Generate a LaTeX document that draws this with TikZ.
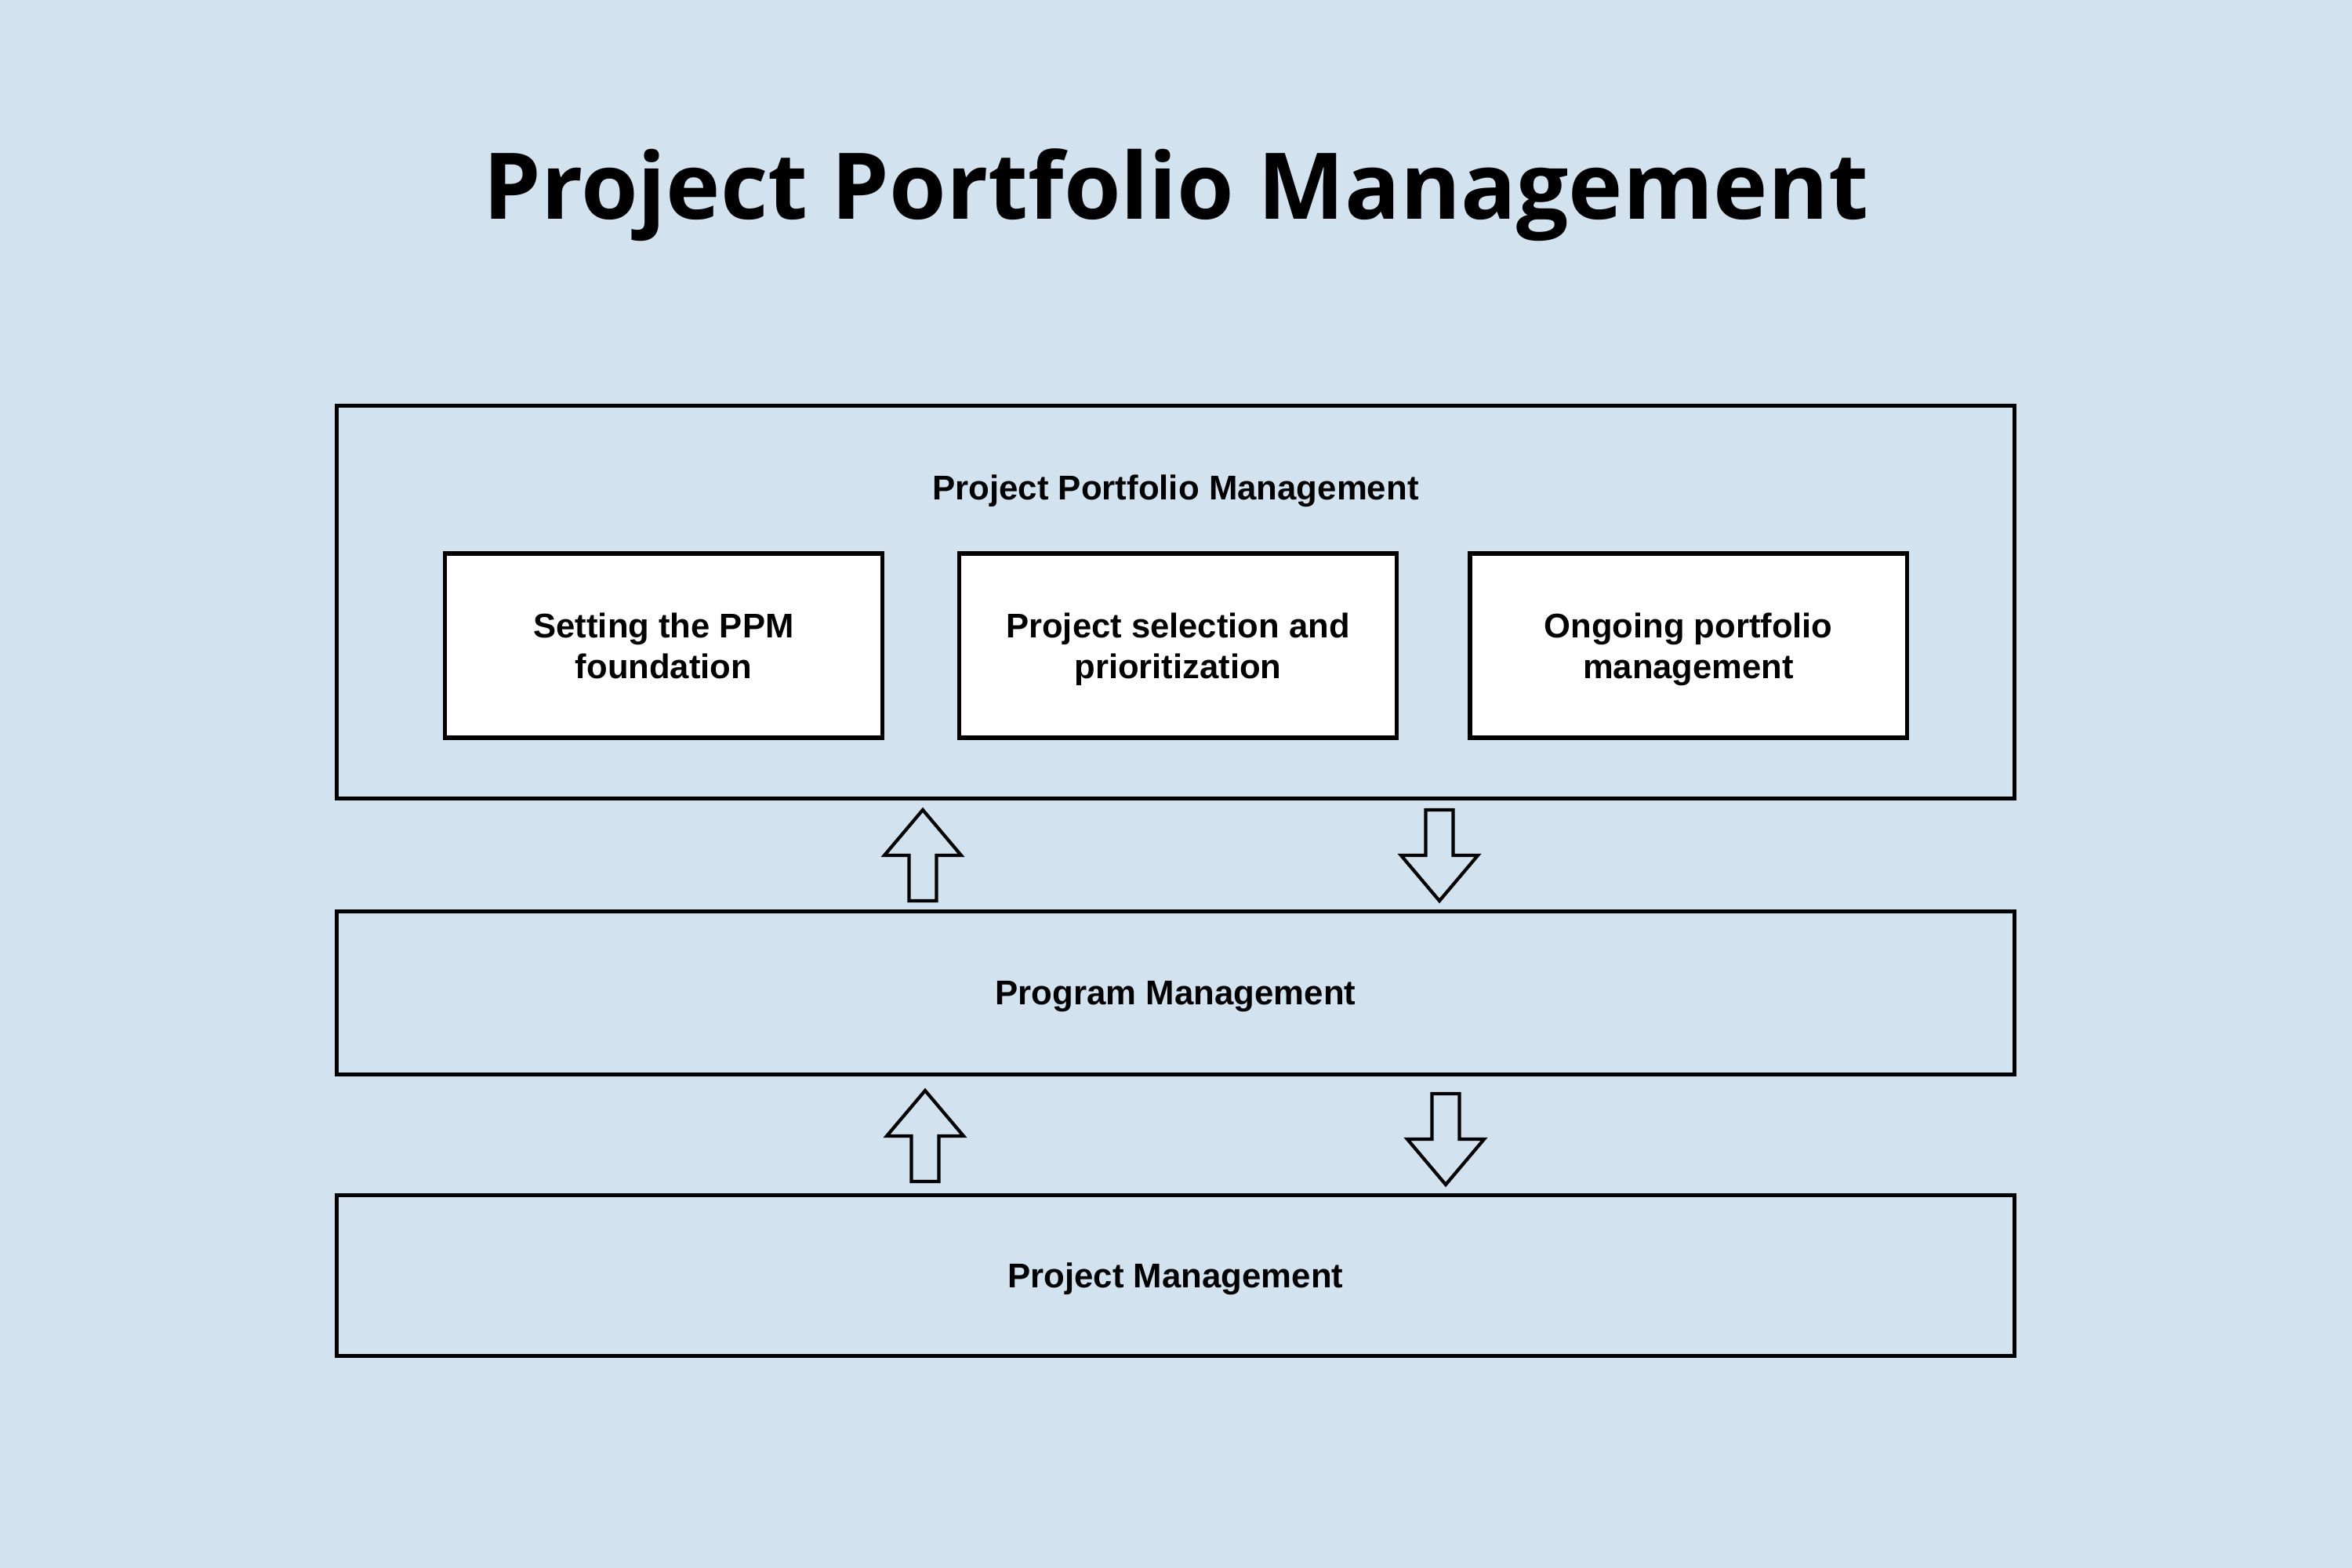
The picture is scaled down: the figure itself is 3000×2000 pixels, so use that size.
\documentclass[tikz,border=0pt]{standalone}
\usepackage{fontspec}
\setmainfont{Liberation Sans}
\newfontfamily\titlefont{Open Sans}
\definecolor{bgblue}{RGB}{211,226,239}
\begin{document}
\begin{tikzpicture}[x=0.01cm,y=-0.01cm,line join=miter,
	layer/.style={draw,line width=1.4pt,minimum width=21.39cm,text depth=0pt,font=\bfseries\fontsize{12.45}{14.8}\selectfont},
	stage/.style={draw,fill=white,line width=1.5pt,minimum width=5.57cm,minimum height=2.35cm,align=center,text depth=0pt,font=\bfseries\fontsize{12.4}{14.8}\selectfont},
	blockarrow/.style={draw,line width=1.2pt}]
	\def\hw{49}   % half head width
	\def\sw{17.5} % half shaft width
	\def\hl{58}   % head length
	\def\al{116}  % arrow length
	\fill[bgblue] (0,0) rectangle (3000,2000);
	\node[font=\titlefont\bfseries\fontsize{33.4}{38}\selectfont,anchor=base] (title) at (1500,279) {Project Portfolio Management};
	\node[layer,minimum height=5cm] (ppm) at (1499.5,768) {};
	\node[anchor=base,font=\bfseries\fontsize{12.45}{14}\selectfont] (ppmlabel) at (1499.5,637) {Project Portfolio Management};
	\node[stage] (s1) at (846.5,823.5) {Setting the PPM\\foundation};
	\node[stage] (s2) at (1502.5,823.5) {Project selection and\\prioritization};
	\node[stage] (s3) at (2153.5,823.5) {Ongoing portfolio\\management};
	\node[layer,minimum height=2.07cm] (prog) at (1499.5,1266.5) {Program Management};
	\node[layer,minimum height=2.04cm] (proj) at (1499.5,1627) {Project Management};
	% up arrows (tip) and down arrows (top of shaft)
	\foreach \x/\y in {1177/1033,1180/1391}
		\draw[blockarrow] (\x,\y) -- ++(\hw,\hl) -- ++(-\hw+\sw,0) -- ++(0,\al-\hl) -- ++(-2*\sw,0) -- ++(0,-\al+\hl) -- ++(-\hw+\sw,0) -- cycle;
	\foreach \x/\y in {1836/1033,1844/1395}
		\draw[blockarrow] ({\x-\sw},\y) -- ++(2*\sw,0) -- ++(0,\al-\hl) -- ++(\hw-\sw,0) -- ++(-\hw,\hl) -- ++(-\hw,-\hl) -- ++(\hw-\sw,0) -- cycle;
\end{tikzpicture}
\end{document}
